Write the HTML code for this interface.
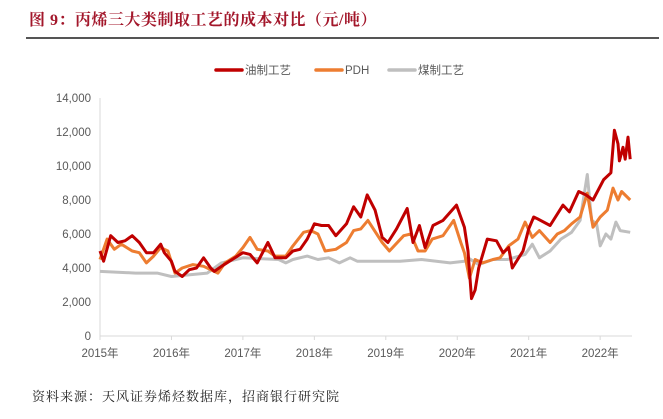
<!DOCTYPE html>
<html><head><meta charset="utf-8">
<style>
body{margin:0;background:#fff;width:663px;height:419px;overflow:hidden;font-family:"Liberation Sans","Noto Sans CJK SC",sans-serif}
#title{position:absolute;left:29px;top:7px;font-size:16px;font-weight:bold;color:#a3172b;letter-spacing:0.5px;font-family:"Liberation Serif","Noto Serif CJK SC",serif}
#rule{position:absolute;left:26px;top:37px;width:633px;height:2px;background:#555}
#src{position:absolute;left:32px;top:386px;font-size:13px;color:#222;font-family:"Liberation Serif","Noto Serif CJK SC",serif;letter-spacing:1px}
svg{position:absolute;left:0;top:0}
</style></head><body>
<div id="title">图 9：丙烯三大类制取工艺的成本对比（元/吨）</div>
<div id="rule"></div>
<svg id="chart" width="663" height="419"></svg>
<div id="src">资料来源：天风证券烯烃数据库，招商银行研究院</div>
<script>
const yTicks=[0,2000,4000,6000,8000,10000,12000,14000];
const yLabels=["0","2,000","4,000","6,000","8,000","10,000","12,000","14,000"];
const xYears=[2015,2016,2017,2018,2019,2020,2021,2022];
const seriesNames=["油制工艺","PDH","煤制工艺"];
const oilT=[2015.0,2015.05,2015.15,2015.25,2015.35,2015.45,2015.55,2015.65,2015.75,2015.85,2015.9,2016.0,2016.05,2016.15,2016.25,2016.35,2016.45,2016.55,2016.6,2016.7,2016.85,2017.0,2017.1,2017.2,2017.35,2017.45,2017.6,2017.7,2017.8,2017.9,2018.0,2018.1,2018.2,2018.3,2018.45,2018.55,2018.65,2018.74,2018.85,2018.95,2019.03,2019.15,2019.3,2019.38,2019.47,2019.55,2019.66,2019.8,2019.99,2020.1,2020.15,2020.2,2020.25,2020.3,2020.42,2020.55,2020.64,2020.72,2020.77,2020.92,2021.0,2021.07,2021.12,2021.3,2021.48,2021.57,2021.7,2021.8,2021.9,2022.05,2022.15,2022.2,2022.25,2022.27,2022.32,2022.35,2022.39,2022.42];
const oilV=[5000,4400,5900,5500,5600,5900,5500,4900,4900,5400,4900,4400,3800,3500,3900,4000,4600,4000,3800,4100,4500,4900,4800,4300,5500,4600,4600,5000,5100,5700,6600,6500,6500,5900,6600,7600,7000,8300,7400,5800,5500,6300,7500,5500,6500,5200,6500,6800,7700,6400,5000,2200,2700,4000,5700,5600,4900,5200,4000,5000,6300,7000,6900,6500,7700,7300,8500,8300,8000,9200,9600,12100,11300,10300,11100,10400,11700,10400];
const pdhT=[2015.0,2015.1,2015.2,2015.3,2015.45,2015.55,2015.65,2015.75,2015.85,2015.95,2016.05,2016.15,2016.3,2016.45,2016.55,2016.65,2016.75,2016.9,2017.0,2017.1,2017.2,2017.35,2017.45,2017.6,2017.7,2017.85,2017.95,2018.05,2018.15,2018.3,2018.45,2018.55,2018.65,2018.75,2018.95,2019.05,2019.25,2019.35,2019.45,2019.55,2019.65,2019.8,2019.95,2020.05,2020.1,2020.17,2020.25,2020.35,2020.5,2020.6,2020.72,2020.85,2020.95,2021.05,2021.15,2021.3,2021.4,2021.5,2021.6,2021.72,2021.82,2021.9,2022.0,2022.1,2022.18,2022.25,2022.3,2022.42];
const pdhV=[4500,5700,5100,5400,5000,4900,4300,4700,5200,5000,3700,4000,4200,4100,3900,3700,4300,4700,5200,5800,5100,5000,4700,4700,5300,6100,6200,6000,5000,5100,5500,6200,6300,6800,5500,5000,5900,6000,5000,5000,5700,5900,6800,5500,4900,3400,4500,4300,4500,4600,5300,5700,6700,5800,6200,5500,6000,6200,6600,7000,8400,6400,7000,7400,8700,8000,8500,8000];
const coalT=[2015.0,2015.5,2015.8,2016.0,2016.5,2016.7,2016.9,2017.0,2017.5,2017.6,2017.7,2017.9,2018.05,2018.2,2018.35,2018.5,2018.6,2019.0,2019.2,2019.5,2019.9,2020.1,2020.15,2020.3,2020.5,2020.7,2020.95,2021.05,2021.15,2021.3,2021.45,2021.6,2021.72,2021.82,2021.88,2021.95,2022.0,2022.08,2022.15,2022.22,2022.28,2022.42];
const coalV=[3800,3700,3700,3500,3700,4300,4500,4600,4500,4300,4500,4700,4500,4600,4300,4600,4400,4400,4400,4500,4300,4400,4600,4200,4500,4500,4800,5400,4600,5000,5700,6100,6800,9500,6800,6600,5300,6000,5700,6700,6200,6100];
const svg=document.getElementById('chart');const NS='http://www.w3.org/2000/svg';
const X0=100,XPY=71.45,Y0=336,YPK=0.017;
const xs=t=>X0+(t-2015)*XPY, ys=v=>Y0-v*YPK;
function mk(tag,attrs){const e=document.createElementNS(NS,tag);for(const k in attrs)e.setAttribute(k,attrs[k]);svg.appendChild(e);return e;}
let ax=mk('line',{x1:X0,y1:ys(14000),x2:X0,y2:Y0,stroke:'#d9d9d9','stroke-width':1});

let bx=mk('line',{x1:X0,y1:Y0,x2:632,y2:Y0,stroke:'#d9d9d9','stroke-width':1});

yTicks.forEach((v,i)=>{const t=mk('text',{x:91,y:ys(v)+4,'text-anchor':'end','font-size':11.5,fill:'#595959'});t.textContent=yLabels[i];
});
xYears.forEach(y=>{mk('line',{x1:xs(y),y1:Y0,x2:xs(y),y2:Y0+4,stroke:'#d9d9d9'});
const t=mk('text',{x:xs(y),y:357,'text-anchor':'middle','font-size':11.5,fill:'#595959'});t.textContent=y+'年';
});
function line(T,V,c,name){const d=T.map((t,i)=>(i?'L':'M')+xs(t).toFixed(1)+','+ys(V[i]).toFixed(1)).join('');
const p=mk('path',{d:d,fill:'none',stroke:c,'stroke-width':3,'stroke-linejoin':'round'});
}
line(coalT,coalV,'#bfbfbf','coal-series-line');
line(pdhT,pdhV,'#ed7d31','pdh-series-line');
line(oilT,oilV,'#c00000','oil-series-line');
const lg=[[216,'#c00000'],[316,'#ed7d31'],[389,'#bfbfbf']];
lg.forEach((l,i)=>{mk('line',{x1:l[0],y1:70,x2:l[0]+26,y2:70,stroke:l[1],'stroke-width':3.5,'stroke-linecap':'round'});
const t=mk('text',{x:l[0]+29,y:74,'font-size':11.5,fill:'#595959'});t.textContent=seriesNames[i];
});
</script>
</body></html>
